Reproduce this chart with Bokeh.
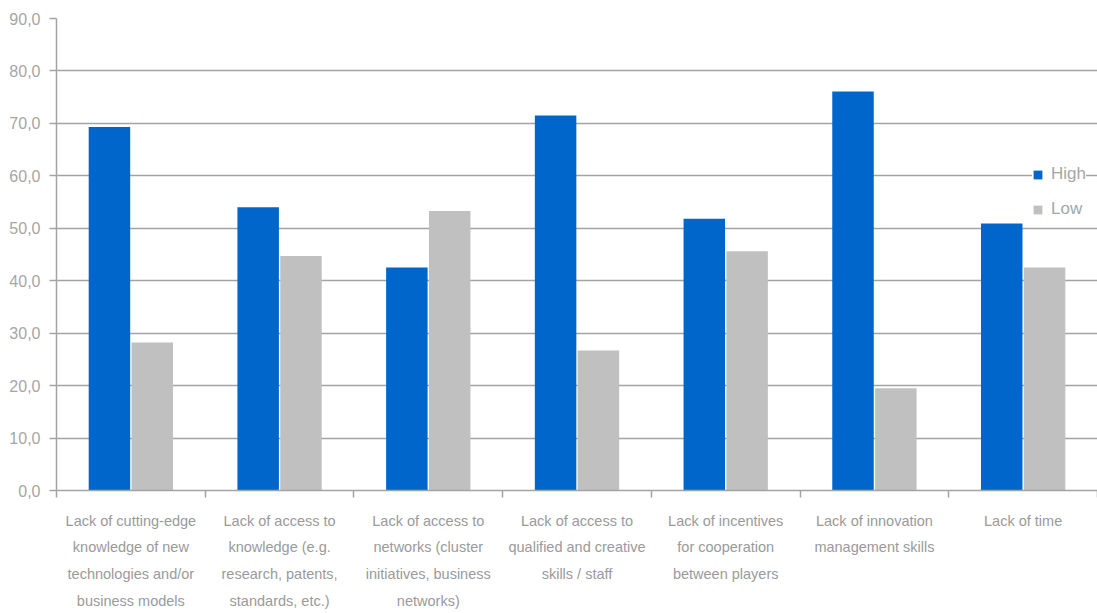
import numpy as np
from bokeh.plotting import figure
from bokeh.models import (Range1d, FixedTicker, CustomJSTickFormatter, LinearAxis, Grid,
                          Legend, LegendItem)
from bokeh.embed import file_html
from bokeh.resources import INLINE

categories = [
    "Lack of cutting-edge\nknowledge of new\ntechnologies and/or\nbusiness models",
    "Lack of access to\nknowledge (e.g.\nresearch, patents,\nstandards, etc.)",
    "Lack of access to\nnetworks (cluster\ninitiatives, business\nnetworks)",
    "Lack of access to\nqualified and creative\nskills / staff",
    "Lack of incentives\nfor cooperation\nbetween players",
    "Lack of innovation\nmanagement skills",
    "Lack of time",
]
high = [69.3, 54.0, 42.5, 71.5, 51.8, 76.1, 50.9]
low = [28.2, 44.7, 53.3, 26.7, 45.6, 19.5, 42.5]
series_names = ["High", "Low"]
series_colors = ["#0066CC", "#C0C0C0"]
y_ticks = [0, 10, 20, 30, 40, 50, 60, 70, 80, 90]

FONT = "Liberation Sans"
GRID = "#a3a3a3"
TXT = "#a6a6a6"

n = len(categories)
xc = np.arange(n) + 0.5

p = figure(width=1097, height=613, output_backend="svg", toolbar_location=None,
           x_range=Range1d(0, n), y_range=Range1d(y_ticks[0], y_ticks[-1]),
           min_border_left=56, min_border_right=0, min_border_top=18, min_border_bottom=123,
           x_axis_type=None, y_axis_type=None)
p.outline_line_color = None
p.background_fill_color = "white"
p.border_fill_color = "white"

p.add_layout(Grid(dimension=1, ticker=FixedTicker(ticks=y_ticks),
                  grid_line_color=GRID, grid_line_width=1.5))

w = 0.279
off = 0.144
r_high = p.vbar(x=xc - off, top=high, width=w, bottom=0, fill_color=series_colors[0], line_color=None)
r_low = p.vbar(x=xc + off, top=low, width=w, bottom=0, fill_color=series_colors[1], line_color=None)

yaxis = LinearAxis(ticker=FixedTicker(ticks=y_ticks),
                   formatter=CustomJSTickFormatter(code="return tick.toFixed(1).replace('.', ',');"),
                   axis_line_color=GRID, axis_line_width=1.5,
                   major_tick_line_color=GRID, major_tick_line_width=1.5,
                   major_tick_out=7, major_tick_in=0,
                   minor_tick_line_color=None,
                   major_label_standoff=9,
                   major_label_text_font=FONT, major_label_text_font_size="16px",
                   major_label_text_color=TXT)
p.add_layout(yaxis, "left")

xaxis = LinearAxis(ticker=FixedTicker(ticks=list(xc), minor_ticks=list(range(n + 1))),
                   formatter=CustomJSTickFormatter(args=dict(labels=categories),
                                                   code="return labels[Math.floor(tick)];"),
                   axis_line_color=GRID, axis_line_width=1.5,
                   major_tick_line_color=None, major_tick_out=0, major_tick_in=0,
                   minor_tick_line_color=GRID, minor_tick_line_width=1.5,
                   minor_tick_out=7, minor_tick_in=0,
                   major_label_standoff=15,
                   major_label_text_font=FONT, major_label_text_font_size="14.5px",
                   major_label_text_color="#9a9a9a",
                   major_label_text_line_height=1.68)
p.add_layout(xaxis, "below")

legend = Legend(items=[LegendItem(label=series_names[0], renderers=[r_high]),
                       LegendItem(label=series_names[1], renderers=[r_low])],
                location=(976, 271), orientation="vertical",
                glyph_width=11, glyph_height=11, label_standoff=8,
                label_text_font=FONT, label_text_font_size="17px", label_text_color=TXT,
                label_height=20, spacing=15, padding=8, margin=0,
                border_line_color=None, background_fill_color="white", background_fill_alpha=1.0)
p.add_layout(legend)

open("out.html", "w").write(file_html(p, INLINE))
